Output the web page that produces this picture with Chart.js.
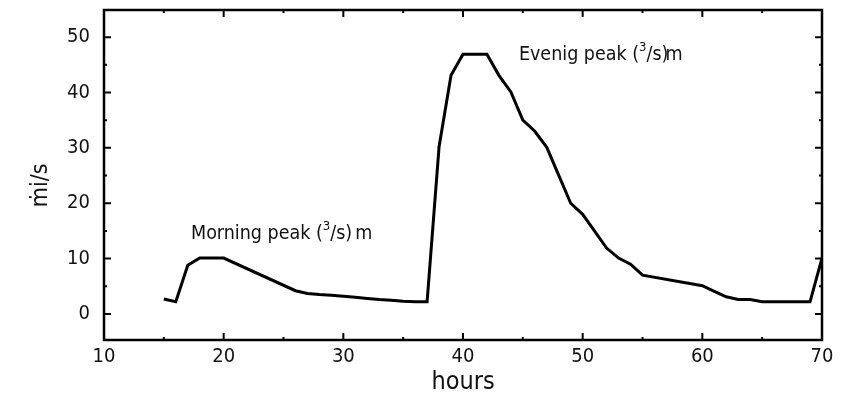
<!DOCTYPE html>
<html>
<head>
<meta charset="utf-8">
<script src="https://cdn.jsdelivr.net/npm/chart.js@4"></script>
<style>
  html, body { margin: 0; padding: 0; background: #fff; }
  #wrap { width: 852px; height: 401px; }
</style>
</head>
<body>
<div id="wrap"><canvas id="flowChart"></canvas></div>
<script>
// hours and flow values
const hours = [15, 16, 17, 18, 20, 26, 27, 28, 29, 30, 31, 32, 33, 34, 35, 36, 37,
  38, 39, 40, 42, 43, 44, 45, 46, 47, 49, 50, 52, 53, 54, 55, 60, 61, 62, 63, 64, 65, 66, 68, 69, 70];
const flow = [2.7, 2.2, 8.8, 10.1, 10.1, 4.2, 3.7, 3.5, 3.4, 3.2, 3.0, 2.8, 2.6, 2.5, 2.3, 2.2, 2.2,
  30.2, 43.1, 46.9, 46.9, 43.1, 40.1, 35, 33, 30.1, 20, 18, 11.9, 10.1, 9.0, 7.0, 5.1, 4.1, 3.1, 2.6, 2.6, 2.2, 2.2, 2.2, 2.2, 10.1];

const xTicks = [10, 20, 30, 40, 50, 60, 70];
const yTicks = [0, 10, 20, 30, 40, 50];
const xMinor = [15, 25, 35, 45, 55, 65];
const yMinor = [5, 15, 25, 35, 45];

const notes = [
  { text: 'Morning peak (', sup: '3', rest: '/s)', unit: 'm', gap: 3, x: 17.27, y: 14.4 },
  { text: 'Evenig peak (', sup: '3', rest: '/s)', unit: 'm', gap: -3, x: 44.67, y: 46.7 }
];

const FONT = '"DejaVu Sans Condensed", "DejaVu Sans", sans-serif';

// frame with inward ticks on all four sides, plus the two text notes
const framePlugin = {
  id: 'frame',
  afterDraw(chart) {
    const { ctx, chartArea: a, scales } = chart;
    const xs = scales.x, ys = scales.y;
    ctx.save();
    ctx.strokeStyle = '#000';
    ctx.lineWidth = 2.5;
    ctx.strokeRect(a.left, a.top, a.right - a.left, a.bottom - a.top);
    ctx.lineWidth = 2;
    ctx.beginPath();
    const tick = (vals, len) => {
      vals.forEach(v => {
        const px = xs.getPixelForValue(v);
        if (px > a.left + 1 && px < a.right - 1) {
          ctx.moveTo(px, a.bottom); ctx.lineTo(px, a.bottom - len);
          ctx.moveTo(px, a.top); ctx.lineTo(px, a.top + len);
        }
      });
    };
    const ytick = (vals, len) => {
      vals.forEach(v => {
        const py = ys.getPixelForValue(v);
        ctx.moveTo(a.left, py); ctx.lineTo(a.left + len, py);
        ctx.moveTo(a.right, py); ctx.lineTo(a.right - len, py);
      });
    };
    tick(xTicks, 7); tick(xMinor, 3);
    ytick(yTicks, 7); ytick(yMinor, 3);
    ctx.stroke();

    ctx.fillStyle = '#111';
    ctx.textBaseline = 'middle';
    ctx.textAlign = 'left';
    const big = '19.5px ' + FONT, small = '13px ' + FONT;
    notes.forEach(n => {
      let px = xs.getPixelForValue(n.x);
      const py = ys.getPixelForValue(n.y);
      ctx.font = big;
      ctx.fillText(n.text, px, py);
      px += ctx.measureText(n.text).width;
      ctx.font = small;
      ctx.fillText(n.sup, px, py - 8);
      px += ctx.measureText(n.sup).width;
      ctx.font = big;
      ctx.fillText(n.rest, px, py);
      px += ctx.measureText(n.rest).width + n.gap;
      ctx.fillText(n.unit, px, py);
    });
    ctx.restore();
  }
};

new Chart(document.getElementById('flowChart'), {
  type: 'line',
  data: {
    datasets: [{
      data: hours.map((h, i) => ({ x: h, y: flow[i] })),
      borderColor: '#000',
      borderWidth: 3,
      pointRadius: 0,
      tension: 0,
      fill: false
    }]
  },
  options: {
    responsive: true,
    maintainAspectRatio: false,
    animation: false,
    layout: { padding: { top: 10, right: 30, left: 0, bottom: 0 } },
    plugins: { legend: { display: false }, tooltip: { enabled: false } },
    scales: {
      x: {
        type: 'linear',
        min: 10, max: 70,
        afterBuildTicks: s => { s.ticks = xTicks.map(v => ({ value: v })); },
        afterFit: s => { s.height = 61; s.paddingLeft = 0; s.paddingRight = 0; },
        grid: { display: false, drawTicks: false },
        border: { display: false },
        ticks: { color: '#111', font: { family: FONT, size: 20 }, padding: 5, maxRotation: 0 },
        title: { display: true, text: 'hours', color: '#111', font: { family: FONT, size: 25 }, padding: { top: -2 } }
      },
      y: {
        min: -4.7, max: 54.9,
        afterBuildTicks: s => { s.ticks = yTicks.map(v => ({ value: v })); },
        afterFit: s => { s.width = 104; s.paddingTop = 0; s.paddingBottom = 0; },
        grid: { display: false, drawTicks: false },
        border: { display: false },
        ticks: { color: '#111', font: { family: FONT, size: 20 }, padding: 14 },
        title: { display: true, text: 'ṁi/s\u2003', color: '#111', font: { family: FONT, size: 23 }, padding: { top: 27, bottom: 0 } }
      }
    }
  },
  plugins: [framePlugin]
});
</script>
</body>
</html>
